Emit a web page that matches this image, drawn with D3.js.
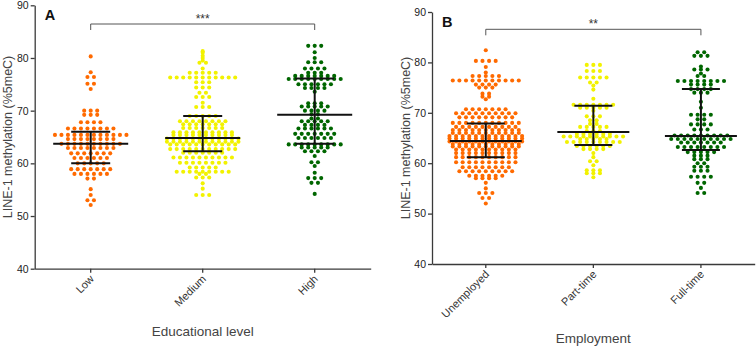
<!DOCTYPE html>
<html>
<head>
<meta charset="utf-8">
<script src="https://cdn.jsdelivr.net/npm/d3@7"></script>
<style>
  body { margin: 0; background: #fff; }
  svg { display: block; font-family: "Liberation Sans", Arial, sans-serif; }
</style>
</head>
<body>
<svg id="chart" width="756" height="348"></svg>
<script>
const yTicks = [40, 50, 60, 70, 80, 90];
const eduLevels = ["Low", "Medium", "High"];
const employment = ["Unemployed", "Part-time", "Full-time"];
const groupColors = ["#ff6a00", "#f2f200", "#006600"];

// swarm rows: [LINE-1 %5meC, dots in that row]
const lowRows = [[80.3,1],[77.3,1],[76.4,2],[75.1,2],[74.1,1],
  [70.0,3],[69.2,3],[67.8,4],[66.6,8],[65.4,12],[64.6,8],[63.7,10],[62.9,8],[61.9,7],
  [61.0,6],[60.0,5],[58.9,7],[58.0,6],[57.1,2],[55.1,1],[54.0,1],[53.0,2],[52.1,1]];
const mediumRows = [[81.3,1],[81.0,1],[80.4,1],[80.0,1],[79.5,1],[79.1,2],[78.0,1],[77.2,5],
  [76.3,11],[75.4,3],[74.4,3],[73.4,2],[72.6,3],[71.5,1],[70.7,3],[69.0,5],[68.0,8],[67.4,7],
  [66.7,7],[65.9,10],[65.4,10],[64.7,12],[64.1,12],[63.6,11],[62.7,11],[62.0,7],[61.1,10],
  [60.1,8],[59.2,5],[58.4,9],[58.0,2],[57.3,3],[56.2,1],[55.2,1],[54.0,3]];
const highRows = [[82.3,3],[81.1,1],[80.0,1],[79.2,3],[78.0,4],[77.2,3],[76.6,7],[76.0,9],
  [75.0,6],[74.3,4],[73.6,1],[71.4,3],[70.8,5],[70.0,4],[69.3,2],[68.5,2],[68.0,5],[67.3,4],
  [66.6,6],[65.6,7],[64.8,6],[63.6,9],[63.0,5],[62.3,4],[61.4,1],[60.2,2],[59.5,1],[58.2,1],
  [57.2,3],[56.3,2],[54.2,1]];
const unemployedRows = [[82.4,1],[80.3,4],[79.1,1],[78.0,1],[77.3,5],[76.4,11],[75.6,4],[75.0,3],
  [73.8,2],[73.2,2],[72.7,1],[70.7,7],[69.9,10],[69.1,9],[68.0,11],[67.2,10],[66.6,11],[66.0,11],
  [65.4,12],[64.9,12],[64.3,12],[63.8,11],[63.3,11],[62.7,10],[62.0,10],[61.2,10],[60.2,10],
  [59.2,8],[58.4,9],[57.5,6],[57.0,4],[56.1,1],[55.0,1],[54.1,3],[53.1,2],[52.0,1]];
const partTimeRows = [[79.5,3],[78.3,3],[77.0,5],[76.0,2],[75.4,1],[74.6,1],[72.8,1],[71.6,7],
  [71.0,5],[70.4,1],[69.3,3],[68.5,2],[67.8,2],[67.2,5],[66.4,3],[65.8,6],[65.3,10],[64.8,5],
  [64.2,9],[63.4,6],[62.8,4],[62.0,1],[61.2,1],[60.4,2],[59.6,1],[58.6,3],[58.0,3],[57.2,1]];
const fullTimeRows = [[82.0,2],[81.3,3],[79.2,1],[78.6,3],[77.8,1],[77.3,2],[76.3,8],[75.6,4],
  [74.7,4],[74.0,3],[72.2,1],[71.0,1],[69.6,4],[68.7,2],[67.7,4],[66.7,3],[65.5,9],[64.8,10],
  [64.1,7],[63.2,8],[62.2,5],[61.5,3],[60.8,3],[60.0,2],[59.3,3],[58.5,3],[57.3,4],[56.1,2],
  [55.1,1],[54.1,2]];

// median and interquartile range bars
const eduMedian = [63.7, 64.8, 69.2];
const eduQ1 = [60.0, 62.3, 63.7];
const eduQ3 = [66.0, 69.0, 76.1];
const empMedian = [64.4, 66.2, 65.4];
const empQ1 = [61.2, 63.6, 62.6];
const empQ3 = [67.9, 71.4, 74.7];

const svg = d3.select("#chart");
const ink = "#3a3a3a";

function drawPanel(p) {
  const g = svg.append("g");
  const x = d3.scaleBand().domain(p.cats).range([p.x0, p.x1]);
  const y = d3.scaleLinear().domain([40, 90]).range([p.y0, p.y1]);
  const cx = c => x(c) + x.bandwidth() / 2;

  p.rows.forEach((rows, gi) => {
    const c = cx(p.cats[gi]);
    let pts = [];
    rows.forEach(([v, n]) => {
      for (let i = 0; i < n; i++) pts.push({v: v, dx: (i - (n - 1) / 2) * p.step});
    });
    g.append("g")
      .attr("fill", groupColors[gi])
      .selectAll("circle")
      .data(pts)
      .join("circle")
      .attr("cx", d => c + d.dx)
      .attr("cy", d => y(d.v))
      .attr("r", 2.05);
  });

  // median / IQR
  const bars = g.append("g").attr("stroke", "#111").attr("stroke-width", 2);
  p.cats.forEach((cat, i) => {
    const c = cx(cat);
    bars.append("line").attr("x1", c - p.medHalf).attr("x2", c + p.medHalf)
      .attr("y1", y(p.median[i])).attr("y2", y(p.median[i]));
    bars.append("line").attr("x1", c).attr("x2", c)
      .attr("y1", y(p.q1[i])).attr("y2", y(p.q3[i]));
    [p.q1[i], p.q3[i]].forEach(q => {
      bars.append("line").attr("x1", c - p.iqrHalf).attr("x2", c + p.iqrHalf)
        .attr("y1", y(q)).attr("y2", y(q));
    });
  });

  // axes
  const ya = g.append("g")
    .attr("transform", "translate(" + p.x0 + ",0)")
    .call(d3.axisLeft(y).tickValues(yTicks).tickSize(4).tickSizeOuter(0).tickPadding(2));
  ya.selectAll("path, line").attr("stroke", ink).attr("stroke-width", 1.3);
  ya.selectAll("text").attr("font-size", 10.5).attr("fill", "#222")
    .attr("font-family", "Liberation Sans, Arial, sans-serif");

  const xa = g.append("g")
    .attr("transform", "translate(0," + p.y0 + ")")
    .call(d3.axisBottom(x).tickSize(4).tickSizeOuter(0));
  xa.selectAll("path, line").attr("stroke", ink).attr("stroke-width", 1.3);
  xa.selectAll("text")
    .attr("font-size", 11).attr("fill", "#333")
    .attr("font-family", "Liberation Sans, Arial, sans-serif")
    .attr("text-anchor", "end")
    .attr("dy", null).attr("y", null)
    .attr("transform", "translate(4,11) rotate(-45)");

  g.append("text")
    .attr("transform", "translate(" + p.yLabelX + "," + (p.y0 + p.y1) / 2 + ") rotate(-90)")
    .attr("text-anchor", "middle")
    .attr("dy", "0.35em")
    .attr("font-size", 12.5)
    .attr("fill", "#444")
    .text("LINE-1 methylation (%5meC)");

  g.append("text")
    .attr("x", (p.x0 + p.x1) / 2)
    .attr("y", p.titleY)
    .attr("text-anchor", "middle")
    .attr("font-size", 13.5)
    .attr("fill", "#444")
    .text(p.title);

  g.append("text")
    .attr("x", p.x0 + 10)
    .attr("y", p.y1 + 15)
    .attr("font-size", 14.5)
    .attr("font-weight", "bold")
    .attr("fill", "#111")
    .text(p.letter);

  // significance bracket
  const a = cx(p.cats[0]), b = cx(p.cats[2]);
  g.append("path")
    .attr("d", "M" + a + "," + (p.brY + 6) + "V" + p.brY + "H" + b + "V" + (p.brY + 6))
    .attr("fill", "none").attr("stroke", "#555").attr("stroke-width", 1);
  g.append("text")
    .attr("x", (a + b) / 2)
    .attr("y", p.brY - 1)
    .attr("text-anchor", "middle")
    .attr("font-size", 12)
    .attr("fill", "#333")
    .text(p.signif);
}

drawPanel({
  x0: 34.7, x1: 370.7, y0: 268.7, y1: 5.3, step: 6.5,
  cats: eduLevels, rows: [lowRows, mediumRows, highRows],
  median: eduMedian, q1: eduQ1, q3: eduQ3, medHalf: 37.5, iqrHalf: 19.5,
  letter: "A", title: "Educational level", titleY: 336, yLabelX: 8,
  brY: 24, signif: "***"
});

drawPanel({
  x0: 432, x1: 754.7, y0: 264, y1: 12, step: 6.6,
  cats: employment, rows: [unemployedRows, partTimeRows, fullTimeRows],
  median: empMedian, q1: empQ1, q3: empQ3, medHalf: 36, iqrHalf: 19,
  letter: "B", title: "Employment", titleY: 343, yLabelX: 406,
  brY: 29.3, signif: "**"
});
</script>
</body>
</html>
